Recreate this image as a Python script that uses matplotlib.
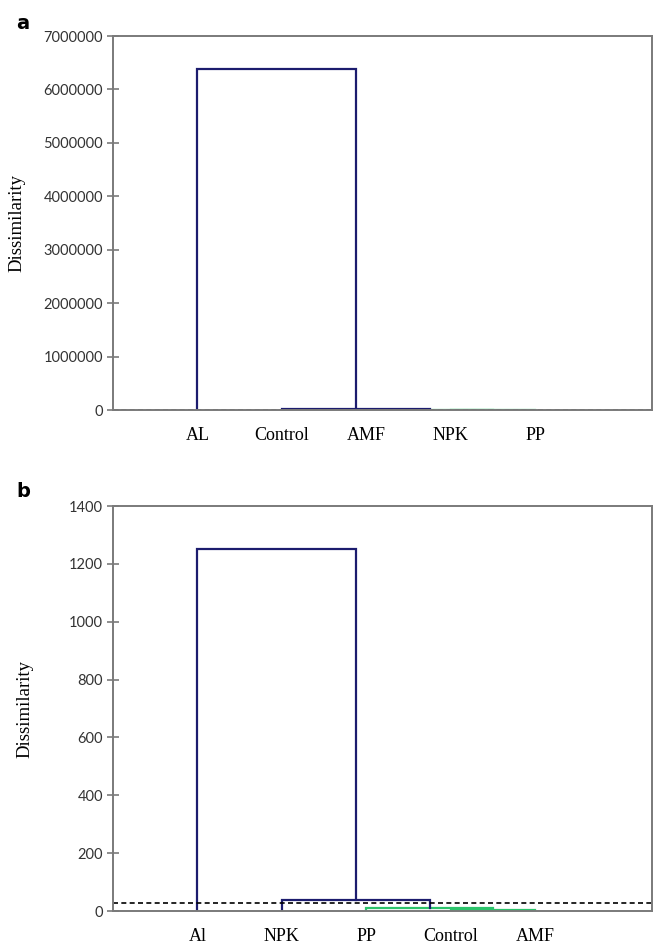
import matplotlib.pyplot as plt
from matplotlib.ticker import FormatStrFormatter

# panel a
labels_a = ['AL', 'Control', 'AMF', 'NPK', 'PP']
merges_a = [(3, 4, 1500), (2, 5, 4000), (1, 6, 15000), (0, 7, 6380000)]
cut_a = 8000
yticks_a = [0, 1000000, 2000000, 3000000, 4000000, 5000000, 6000000, 7000000]

# panel b
labels_b = ['Al', 'NPK', 'PP', 'Control', 'AMF']
merges_b = [(3, 4, 3), (2, 5, 11), (1, 6, 38), (0, 7, 1250)]
cut_b = 28
yticks_b = [0, 200, 400, 600, 800, 1000, 1200, 1400]

navy = '#1c1c6e'
green = '#2cc46b'
spine = '#7a7a7a'

plt.rcParams['font.family'] = ['Lato', 'DejaVu Sans']


def dendro(ax, labels, merges, cut, yticks):
    n = len(labels)
    xs = {i: i + 1 for i in range(n)}
    hs = {i: 0 for i in range(n)}
    for k, (a, b, h) in enumerate(merges):
        c = navy if h > cut else green
        ax.plot([xs[a], xs[a], xs[b], xs[b]], [hs[a], h, h, hs[b]],
                color=c, lw=1.6, solid_joinstyle='miter')
        xs[n + k] = (xs[a] + xs[b]) / 2
        hs[n + k] = h
    ax.axhline(cut, color='black', ls=(0, (3, 2)), lw=1.2)
    ax.set_xlim(0, 6.38)
    ax.set_ylim(yticks[0], yticks[-1])
    ax.set_yticks(yticks)
    ax.yaxis.set_major_formatter(FormatStrFormatter('%d'))
    ax.set_xticks(range(1, n + 1))
    ax.set_xticklabels(labels, family='Liberation Serif', fontsize=13)
    ax.tick_params(axis='x', length=0, pad=12)
    ax.tick_params(axis='y', direction='inout', length=8, width=1.2,
                   color=spine, labelsize=10.5, labelcolor='#333333', pad=3)
    for s in ax.spines.values():
        s.set_color(spine)
        s.set_linewidth(1.4)
    ax.set_ylabel('Dissimilarity', family='Liberation Serif', fontsize=13.5)


fig = plt.figure(figsize=(6.53, 9.48), dpi=100)
ax1 = fig.add_axes([0.173, 0.5675, 0.825, 0.3945])
ax2 = fig.add_axes([0.173, 0.039, 0.825, 0.4272])

dendro(ax1, labels_a, merges_a, cut_a, yticks_a)
dendro(ax2, labels_b, merges_b, cut_b, yticks_b)
ax1.yaxis.set_label_coords(-0.163, 0.5)
ax2.yaxis.set_label_coords(-0.148, 0.5)

fig.text(0.025, 0.985, 'a', fontsize=14, fontweight='bold', family='DejaVu Sans', va='top')
fig.text(0.025, 0.492, 'b', fontsize=14, fontweight='bold', family='DejaVu Sans', va='top')

fig.savefig('out.png', dpi=100)
